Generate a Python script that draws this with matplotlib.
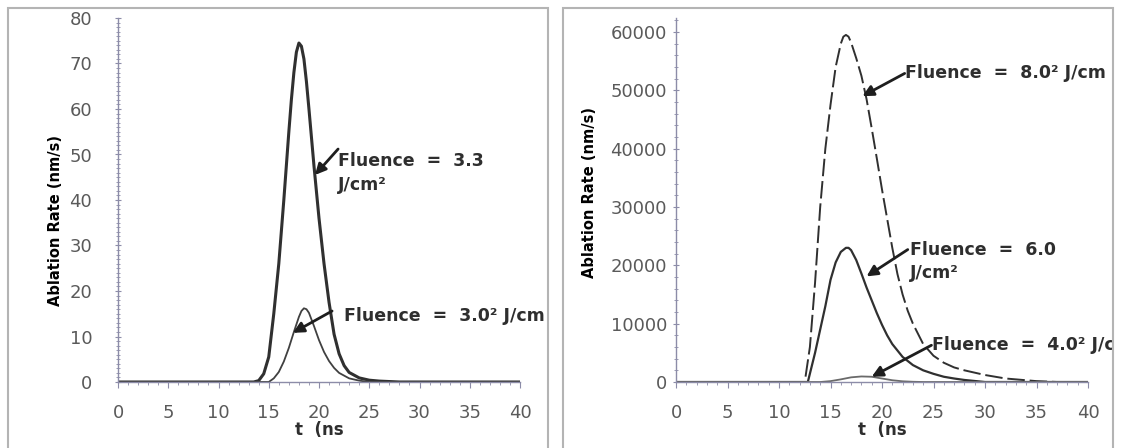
import matplotlib
matplotlib.use("Agg")
import matplotlib.pyplot as plt
from matplotlib.patches import Rectangle
from matplotlib.ticker import MultipleLocator
from matplotlib.transforms import Bbox, TransformedBbox

# -----------------------
# Data (t in ns, ablation rate)
# -----------------------
# left panel
t_33 = [0, 13.5, 14.0, 14.5, 15.0, 15.5, 16.0, 16.5, 17.0, 17.25, 17.5, 17.75, 18.0, 18.25,
        18.5, 18.75, 19.0, 19.5, 20.0, 20.5, 21.0, 21.5, 22.0, 22.5, 23.0, 24.0, 25.0, 26.0,
        28.0, 40]
rate_33 = [0, 0, 0.3, 1.8, 5.5, 15, 26, 40, 55, 62, 68, 72.5, 74.5, 73.8,
           71, 66, 60, 47.5, 36, 26, 17.5, 10.5, 6.2, 3.6, 2.1, 0.9, 0.4, 0.2,
           0, 0]

t_30 = [0, 15.0, 15.5, 16.0, 16.5, 17.0, 17.5, 18.0, 18.25, 18.5, 18.75, 19.0, 19.5, 20.0,
        20.5, 21.0, 21.5, 22.0, 23.0, 24.0, 25.0, 40]
rate_30 = [0, 0, 0.8, 2.2, 4.5, 7.5, 11, 14.3, 15.6, 16.2, 16.0, 15.2, 12.3, 9.2,
           6.6, 4.6, 3.1, 2.0, 0.8, 0.3, 0, 0]

# right panel
t_80 = [0, 12.5, 13.0, 13.5, 14.0, 14.5, 15.0, 15.5, 16.0, 16.25, 16.5, 16.75, 17.0, 17.5,
        18.0, 18.5, 19.0, 19.5, 20.0, 20.5, 21.0, 21.5, 22.0, 22.5, 23.0, 24.0, 25.0, 26.0,
        27.0, 28.0, 29.0, 30.0, 32.0, 35.0, 37.0, 40]
rate_80 = [0, 0, 6000, 17000, 30000, 40000, 47500, 54000, 58000, 59200, 59500, 59200, 58200, 55500,
           52500, 48500, 43500, 38300, 33000, 28000, 23000, 18500, 15000, 12200, 10000, 6500, 4500, 3300,
           2500, 2000, 1600, 1200, 600, 150, 0, 0]

t_60 = [0, 12.8, 13.5, 14.0, 14.5, 15.0, 15.5, 16.0, 16.5, 16.75, 17.0, 17.5, 18.0, 18.5,
        19.0, 19.5, 20.0, 20.5, 21.0, 22.0, 23.0, 24.0, 25.0, 26.0, 27.0, 28.0, 30.0, 40]
rate_60 = [0, 0, 5000, 9000, 13000, 17500, 20500, 22300, 23000, 23000, 22600, 20900, 18600, 16200,
           14000, 11800, 9800, 8000, 6500, 4300, 2900, 2000, 1400, 900, 600, 350, 0, 0]

t_40 = [0, 14, 15, 16, 17, 18, 19, 20, 21, 22, 23, 24, 40]
rate_40 = [0, 0, 150, 450, 800, 950, 900, 600, 300, 120, 40, 0, 0]

x_ticks = [0, 5, 10, 15, 20, 25, 30, 35, 40]
y_ticks_left = [0, 10, 20, 30, 40, 50, 60, 70, 80]
y_ticks_right = [0, 10000, 20000, 30000, 40000, 50000, 60000]

AXIS_COLOR = "#8c8ca8"
LINE_COLOR = "#303030"
TEXT_COLOR = "#2e2e2e"

W, H = 1121, 448
fig = plt.figure(figsize=(W / 100, H / 100), dpi=100)
fig.patch.set_facecolor("white")


def px_axes(x0, x1, y_bottom, y_top):
    return fig.add_axes([x0 / W, (H - y_bottom) / H, (x1 - x0) / W, (y_bottom - y_top) / H])


def style_axes(ax, ytick_pad):
    for side in ("top", "right"):
        ax.spines[side].set_visible(False)
    for side in ("left", "bottom"):
        ax.spines[side].set_color(AXIS_COLOR)
        ax.spines[side].set_linewidth(1.0)
    ax.set_xlim(0, 40)
    ax.set_xticks(x_ticks)
    ax.xaxis.set_minor_locator(MultipleLocator(1))
    ax.tick_params(axis="both", which="both", colors=AXIS_COLOR, labelcolor="#5a5a5a",
                   labelsize=13)
    ax.tick_params(axis="x", which="major", direction="out", length=4, pad=12)
    ax.tick_params(axis="x", which="minor", direction="out", length=2.5)
    ax.tick_params(axis="y", which="major", direction="inout", length=5, pad=ytick_pad)
    ax.tick_params(axis="y", which="minor", direction="inout", length=3.5)
    ax.set_facecolor("none")
    ax.set_xlabel("t  (ns", fontsize=12, fontweight="bold", color=TEXT_COLOR, labelpad=-1)


def arrow(ax, tip, tail):
    ax.annotate("", xy=tip, xytext=tail,
                arrowprops=dict(arrowstyle="-|>", color="#1e1e1e", lw=2.0,
                                mutation_scale=16, shrinkA=0, shrinkB=0))


label_kw = dict(fontsize=12.5, fontweight="bold", color=TEXT_COLOR,
                family="DejaVu Sans", va="center", ha="left")

# -----------------------
# Left panel
# -----------------------
ax1 = px_axes(118, 520, 382, 18)
ax1.plot(t_33, rate_33, color=LINE_COLOR, lw=2.2)
ax1.plot(t_30, rate_30, color="#404040", lw=1.3)
ax1.set_ylim(0, 80)
ax1.set_yticks(y_ticks_left)
ax1.yaxis.set_minor_locator(MultipleLocator(1))
style_axes(ax1, ytick_pad=16)
ax1.set_ylabel("Ablation Rate (nm/s)", fontsize=10.5, fontweight="heavy", color="black")
ax1.yaxis.set_label_coords(-0.137, 0.445)

ax1.text(21.9, 48.6, "Fluence  =  3.3", **label_kw)
ax1.text(21.9, 43.4, "J/cm²", **label_kw)
arrow(ax1, (19.6, 45.5), (21.9, 51.2))

ax1.text(22.5, 14.5, "Fluence  =  3.0² J/cm", **label_kw)
arrow(ax1, (17.4, 10.8), (21.3, 15.6))

# -----------------------
# Right panel
# -----------------------
ax2 = px_axes(676, 1088, 382, 18)
ax2.plot(t_80, rate_80, color=LINE_COLOR, lw=1.4, dashes=(9, 2.5))
ax2.plot(t_60, rate_60, color=LINE_COLOR, lw=1.6)
ax2.plot(t_40, rate_40, color="#6a6a6a", lw=1.3)
ax2.set_ylim(0, 62400)
ax2.set_yticks(y_ticks_right)
ax2.yaxis.set_minor_locator(MultipleLocator(2000))
style_axes(ax2, ytick_pad=4)
ax2.set_ylabel("Ablation Rate (nm/s)", fontsize=10.5, fontweight="heavy", color="black")
ax2.yaxis.set_label_coords(-0.192, 0.52)

ax2.text(22.2, 52900, "Fluence  =  8.0² J/cm", **label_kw)
arrow(ax2, (18.1, 49000), (22.2, 52900))

ax2.text(22.7, 22700, "Fluence  =  6.0", **label_kw)
ax2.text(22.7, 18700, "J/cm²", **label_kw)
arrow(ax2, (18.5, 18100), (22.5, 22700))

t40_label = ax2.text(24.9, 6300, "Fluence  =  4.0² J/cm", **label_kw)
arrow(ax2, (19.0, 900), (24.8, 6300))

# panel frames
fig.add_artist(Rectangle((8 / W, -0.02), (548 - 8) / W, (H - 8) / H + 0.02,
                         transform=fig.transFigure, fill=False, ec="#b4b4b4", lw=1.5))
fig.add_artist(Rectangle((563 / W, -0.02), (1113 - 563) / W, (H - 8) / H + 0.02,
                         transform=fig.transFigure, fill=False, ec="#b4b4b4", lw=1.5))

# the last label runs into the frame edge
t40_label.set_clip_box(TransformedBbox(Bbox.from_extents(563 / W, 0, 1112 / W, 1), fig.transFigure))
t40_label.set_clip_on(True)

fig.savefig("out.png", dpi=100)
